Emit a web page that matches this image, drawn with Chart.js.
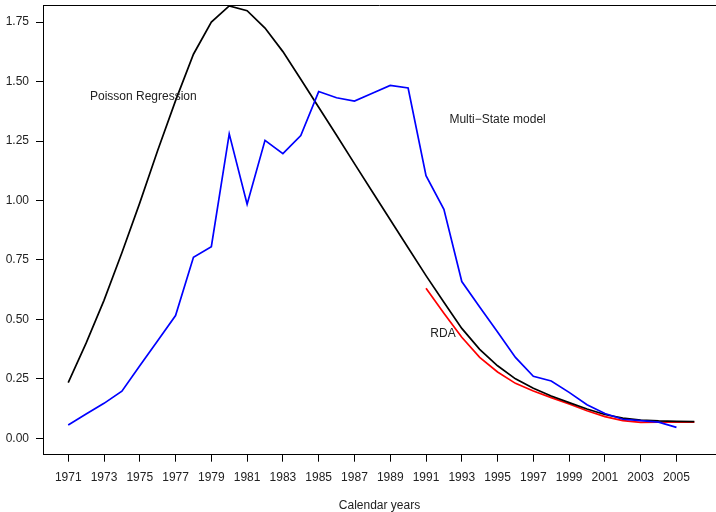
<!DOCTYPE html>
<html>
<head>
<meta charset="utf-8">
<script src="https://cdn.jsdelivr.net/npm/chart.js@4.4.1/dist/chart.umd.min.js"></script>
<style>
  html, body { margin: 0; padding: 0; background: #fff; overflow: hidden; }
  #wrap { width: 716px; height: 512px; }
</style>
</head>
<body>
<div id="wrap"><canvas id="chart" width="716" height="512"></canvas></div>
<script>
// Data
const years = [1971, 1972, 1973, 1974, 1975, 1976, 1977, 1978, 1979, 1980,
  1981, 1982, 1983, 1984, 1985, 1986, 1987, 1988, 1989, 1990,
  1991, 1992, 1993, 1994, 1995, 1996, 1997, 1998, 1999, 2000,
  2001, 2002, 2003, 2004, 2005, 2006];

const poisson = [0.234, 0.40, 0.58, 0.78, 0.99, 1.21, 1.42, 1.615, 1.75, 1.818,
  1.798, 1.725, 1.626, 1.51, 1.392, 1.274, 1.155, 1.037, 0.919, 0.801,
  0.684, 0.572, 0.462, 0.374, 0.305, 0.25, 0.21, 0.178, 0.15, 0.123,
  0.10, 0.085, 0.077, 0.073, 0.071, 0.070];

const multiStateYears = [1971, 1972, 1973, 1974, 1975, 1976, 1977, 1978, 1979, 1980,
  1981, 1982, 1983, 1984, 1985, 1986, 1987, 1988, 1989, 1990,
  1991, 1992, 1993, 1994, 1995, 1996, 1997, 1998, 1999, 2000,
  2001, 2002, 2003, 2004, 2005];
const multiState = [0.056, 0.102, 0.147, 0.198, 0.305, 0.41, 0.516, 0.761, 0.806, 1.280,
  0.984, 1.253, 1.197, 1.273, 1.458, 1.432, 1.418, 1.451, 1.484, 1.473,
  1.104, 0.963, 0.659, 0.552, 0.447, 0.34, 0.261, 0.241, 0.193, 0.141,
  0.104, 0.080, 0.074, 0.068, 0.046];

const rdaYears = [1991, 1992, 1993, 1994, 1995, 1996, 1997, 1998, 1999, 2000,
  2001, 2002, 2003, 2004, 2005, 2006];
const rda = [0.631, 0.526, 0.425, 0.34, 0.279, 0.231, 0.199, 0.171, 0.144, 0.116,
  0.091, 0.074, 0.067, 0.068, 0.068, 0.068];

const xTicks = [1971, 1973, 1975, 1977, 1979, 1981, 1983, 1985, 1987, 1989,
  1991, 1993, 1995, 1997, 1999, 2001, 2003, 2005];
const yTicks = [0, 0.25, 0.5, 0.75, 1, 1.25, 1.5, 1.75];

const labels = [
  { text: 'Poisson Regression', x: 1975.2, y: 1.436 },
  { text: 'Multi\u2212State model', x: 1995.0, y: 1.341 },
  { text: 'RDA', x: 1991.95, y: 0.439 }
];

const FONT = '"Liberation Sans", Arial, Helvetica, sans-serif';
const TEXT = '#222';

function toPoints(xs, ys) {
  return xs.map((x, i) => ({ x: x, y: ys[i] }));
}

// top side of the R style box
const frameTop = {
  id: 'frameTop',
  afterDraw(chart) {
    const { ctx, chartArea } = chart;
    ctx.save();
    ctx.strokeStyle = '#000';
    ctx.lineWidth = 1;
    ctx.beginPath();
    ctx.moveTo(chartArea.left, chartArea.top + 0.5);
    ctx.lineTo(chartArea.right, chartArea.top + 0.5);
    ctx.stroke();
    ctx.restore();
  }
};

// text labels placed at data coordinates
const textLabels = {
  id: 'textLabels',
  afterDatasetsDraw(chart) {
    const { ctx, scales } = chart;
    ctx.save();
    ctx.font = '12px ' + FONT;
    ctx.fillStyle = TEXT;
    ctx.textAlign = 'center';
    ctx.textBaseline = 'middle';
    labels.forEach(l => {
      ctx.fillText(l.text, scales.x.getPixelForValue(l.x), scales.y.getPixelForValue(l.y));
    });
    ctx.restore();
  }
};

const lineStyle = { borderWidth: 1.7, pointRadius: 0, tension: 0, fill: false };

new Chart(document.getElementById('chart'), {
  type: 'line',
  data: {
    datasets: [
      Object.assign({ label: 'Multi-State model', data: toPoints(multiStateYears, multiState), borderColor: '#0000ff' }, lineStyle),
      Object.assign({ label: 'Poisson Regression', data: toPoints(years, poisson), borderColor: '#000000' }, lineStyle),
      Object.assign({ label: 'RDA', data: toPoints(rdaYears, rda), borderColor: '#ff0000' }, lineStyle)
    ]
  },
  options: {
    responsive: false,
    animation: false,
    layout: { padding: { top: 5, right: 0, bottom: 0, left: 0 } },
    plugins: {
      legend: { display: false },
      tooltip: { enabled: false }
    },
    scales: {
      x: {
        type: 'linear',
        min: 1969.59,
        max: 2007.21,
        afterBuildTicks: s => { s.ticks = xTicks.map(v => ({ value: v })); },
        afterFit: s => { s.height = 57.3; s.paddingLeft = 0; s.paddingRight = 0; },
        ticks: {
          autoSkip: false,
          maxRotation: 0,
          padding: 9,
          color: TEXT,
          font: { family: FONT, size: 12 },
          callback: v => String(v)
        },
        grid: { drawOnChartArea: false, drawTicks: true, tickLength: 7, color: '#000', lineWidth: 1 },
        border: { display: true, color: '#000', width: 1 },
        title: {
          display: true,
          text: 'Calendar years',
          color: TEXT,
          font: { family: FONT, size: 12, lineHeight: 1 },
          padding: { top: 0, bottom: 0 }
        }
      },
      y: {
        type: 'linear',
        min: -0.069,
        max: 1.822,
        afterBuildTicks: s => { s.ticks = yTicks.map(v => ({ value: v })); },
        afterFit: s => { s.width = 43; s.paddingTop = 0; s.paddingBottom = 0; },
        ticks: {
          padding: 7,
          color: TEXT,
          font: { family: FONT, size: 12 },
          callback: v => Number(v).toFixed(2)
        },
        grid: { drawOnChartArea: false, drawTicks: true, tickLength: 7, color: '#000', lineWidth: 1 },
        border: { display: true, color: '#000', width: 1 }
      }
    }
  },
  plugins: [frameTop, textLabels]
});
</script>
</body>
</html>
